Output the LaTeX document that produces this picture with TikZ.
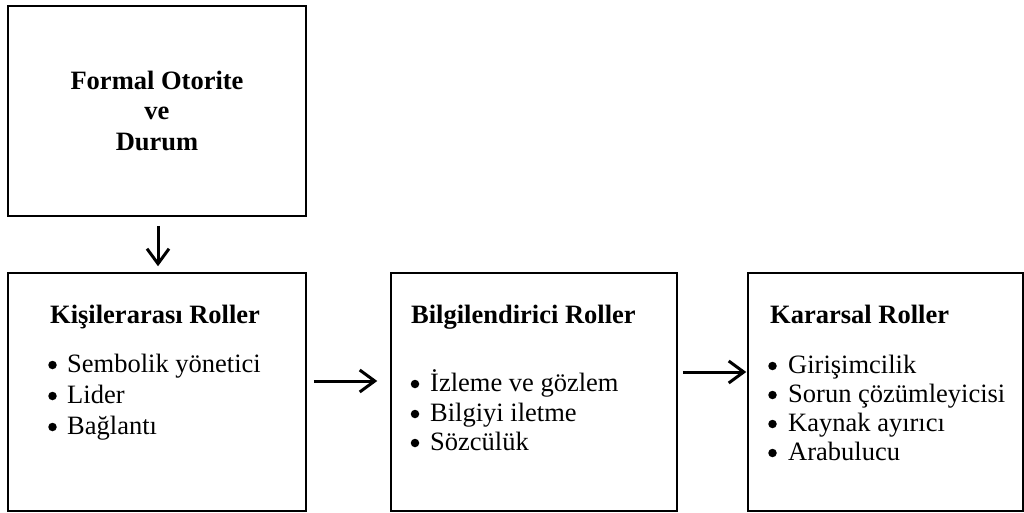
\documentclass[tikz,border=0pt]{standalone}
\usepackage{fontspec}
\setmainfont{Liberation Serif}
\usetikzlibrary{arrows.meta}

\tikzset{
  box/.style={draw, line width=1.5pt, inner sep=0pt},
  head/.style={anchor=base west, inner sep=0pt, font=\fontsize{26.5}{30}\selectfont\bfseries},
  title/.style={anchor=base, inner sep=0pt, font=\fontsize{26.5}{30}\selectfont\bfseries},
  item/.style={anchor=base west, inner sep=0pt, font=\fontsize{26.5}{29}\selectfont},
  dot/.style={circle, fill, inner sep=0pt, minimum size=8.5pt},
  flow/.style={line width=3pt, -{Straight Barb[length=15pt,width=22pt,line width=3pt]}},
}

\begin{document}
\begin{tikzpicture}[x=1pt,y=-1pt]
\useasboundingbox (0,0) rectangle (1024,513);

% boxes
\node[box, minimum width=298pt, minimum height=210pt] (top) at (157,111) {};
\node[box, minimum width=298pt, minimum height=238pt] (inter) at (157,392) {};
\node[box, minimum width=286pt, minimum height=238pt] (info) at (534,392) {};
\node[box, minimum width=275pt, minimum height=238pt] (dec) at (885.5,392) {};

% top box text
\node[title] (t1) at (157,90) {Formal Otorite};
\node[title] (t2) at (157,120) {ve};
\node[title] (t3) at (157,150) {Durum};

% interpersonal roles
\node[head] (h1) at (50,323) {Kişilerarası Roller};
\foreach \y/\txt [count=\i] in {372/Sembolik yönetici, 403/Lider, 434/Bağlantı} {
  \node[dot] (ad\i) at (52.5,\y-7) {};
  \node[item] (a\i) at (67,\y) {\txt};
}

% informational roles
\node[head] (h2) at (411,323) {Bilgilendirici Roller};
\foreach \y/\txt [count=\i] in {391/İzleme ve gözlem, 421/Bilgiyi iletme, 450/Sözcülük} {
  \node[dot] (bd\i) at (415,\y-7) {};
  \node[item] (b\i) at (430,\y) {\txt};
}

% decisional roles
\node[head] (h3) at (770,323) {Kararsal Roller};
\foreach \y/\txt [count=\i] in {373/Girişimcilik, 402/Sorun çözümleyicisi, 431/Kaynak ayırıcı, 460/Arabulucu} {
  \node[dot] (cd\i) at (772.5,\y-7) {};
  \node[item] (c\i) at (788,\y) {\txt};
}

% connectors
\draw[flow, shorten <=9pt, shorten >=6pt] ([xshift=1pt]top.south) -- ([xshift=1pt]inter.north);
\draw[flow, shorten <=7pt, shorten >=13pt] ([yshift=11pt]inter.east) -- ([yshift=11pt]info.west);
\draw[flow, shorten <=5pt, shorten >=1pt] ([yshift=20pt]info.east) -- ([yshift=20pt]dec.west);
\end{tikzpicture}
\end{document}
